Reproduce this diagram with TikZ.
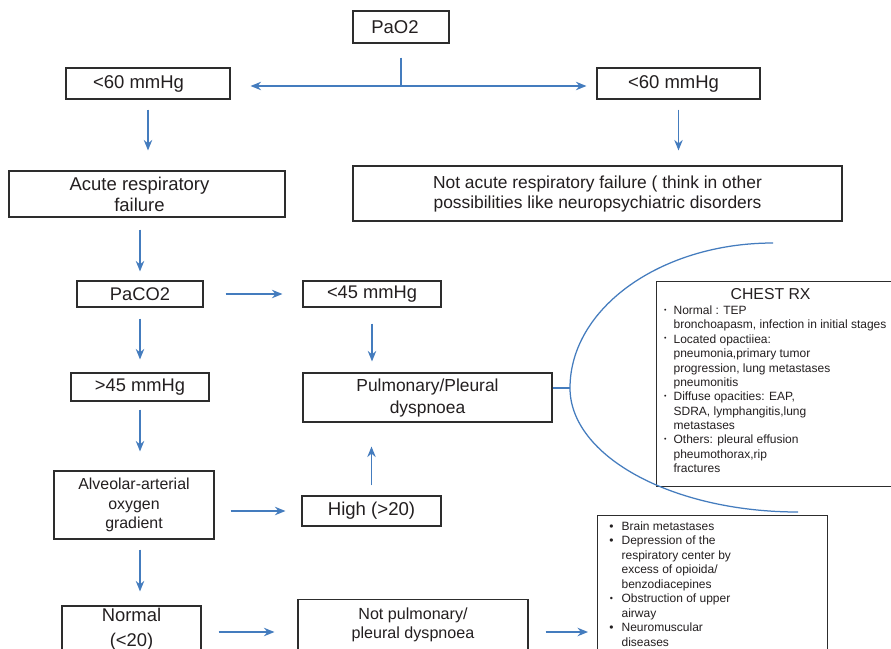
\documentclass[tikz,border=0pt]{standalone}
\usepackage{fontspec}
\setmainfont{Liberation Sans}
\usetikzlibrary{arrows.meta,calc}
\definecolor{boxc}{RGB}{45,45,45}
\definecolor{txtc}{RGB}{35,31,32}
\definecolor{arrc}{RGB}{68,124,190}
\newcommand{\myfs}[2]{\fontsize{#1}{#2}\selectfont}
\begin{document}
\begin{tikzpicture}[x=1pt,y=-1pt,
  box/.style={draw=boxc, line width=1.2pt, inner sep=0pt, align=center, text=txtc},
  arr/.style={draw=arrc, line width=1.25pt, -{Stealth[length=10.5pt,width=8.5pt,inset=3.5pt]}},
  plain/.style={draw=arrc, line width=1.25pt},
]
\fill[white] (0,0) rectangle (891,648);
\useasboundingbox (0,0) rectangle (891,648);
\clip (0,0) rectangle (891,648);

% boxes
\node[box, minimum width=96pt, minimum height=32pt, font={\myfs{18.5}{21}}] (pao2) at (401,27) {PaO2\hspace*{12pt}};
\node[box, minimum width=164pt, minimum height=31pt, font={\myfs{18.5}{21}}] (left60) at (148,83.5) {<60 mmHg\hspace*{19pt}};
\node[box, minimum width=163pt, minimum height=31pt, font={\myfs{18.5}{21}}] (right60) at (678.5,83.5) {<60 mmHg\hspace*{10pt}};
\node[box, minimum width=276pt, minimum height=46pt, font={\myfs{18.5}{21}}] (acute) at (147,194) {Acute respiratory\hspace*{15pt}\\failure\hspace*{15pt}};
\node[box, minimum width=489pt, minimum height=55pt, font={\myfs{17.4}{20}}] (notacute) at (597.5,193.5) {Not acute respiratory failure ( think in other\\possibilities like neuropsychiatric disorders};
\node[box, minimum width=126pt, minimum height=26pt, font={\myfs{18.3}{21}}] (paco2) at (140,294) {PaCO2};
\node[box, minimum width=138pt, minimum height=26pt, font={\myfs{18.3}{21}}] (lt45) at (372,294) {<45 mmHg};
\node[box, minimum width=138pt, minimum height=28pt, font={\myfs{18.3}{21}}] (gt45) at (140,387) {>45 mmHg};
\node[box, minimum width=249pt, minimum height=49pt, font={\myfs{17.4}{22}}] (pulm) at (427.5,397.5) {Pulmonary/Pleural\\dyspnoea};
\node[box, minimum width=160pt, minimum height=68pt, font={\myfs{15.9}{19.3}}] (alv) at (134,505) {Alveolar-arterial\\oxygen\\gradient};
\node[box, minimum width=139pt, minimum height=30pt, font={\myfs{18.6}{21}}] (high) at (371.5,511) {High (>20)};
\node[box, minimum width=139pt, minimum height=46pt, font={\myfs{18.4}{24.7}}] (normal) at (131.5,629) {Normal\\(<20)};
\node[box, minimum width=230pt, minimum height=51pt, font={\myfs{16.1}{19.3}}] (notpulm) at (413,625) {Not pulmonary/\\pleural dyspnoea};

\node[box, anchor=north west] (bullets) at (597,515) {\parbox[c][150pt][t]{230pt}{\raggedright\myfs{12}{14.5}\leftskip=24pt\relax
\vspace*{5.7pt}%
\noindent\llap{•\hspace{8pt}}Brain metastases\par
\noindent\llap{•\hspace{8pt}}Depression of the\\respiratory center by\\excess of opioida/\\benzodiacepines\par
\noindent\llap{\raisebox{1.5pt}{\myfs{9}{9}•}\hspace{8.5pt}}Obstruction of upper\\airway\par
\noindent\llap{•\hspace{8pt}}Neuromuscular\\diseases\par}};

\node[box, anchor=north west] (chest) at (656,281) {\parbox[c][205pt][t]{250pt}{\raggedright\myfs{15.8}{18}%
\vspace*{6.4pt}%
\noindent\makebox[228pt][c]{CHEST RX}\par
\vspace{1.2pt}%
\myfs{12}{14.36}\leftskip=17pt\relax
\noindent\llap{\raisebox{2.5pt}{\myfs{7}{7}•}\hspace{7pt}}Normal : TEP\\bronchoapasm, infection in initial stages\par
\noindent\llap{\raisebox{2.5pt}{\myfs{7}{7}•}\hspace{7pt}}Located opactiiea:\\pneumonia,primary tumor\\progression, lung metastases\\pneumonitis\par
\noindent\llap{\raisebox{2.5pt}{\myfs{7}{7}•}\hspace{7pt}}Diffuse opacities: EAP,\\SDRA, lymphangitis,lung\\metastases\par
\noindent\llap{\raisebox{2.5pt}{\myfs{7}{7}•}\hspace{7pt}}Others: pleural effusion\\pheumothorax,rip\\fractures\par}};

% connectors
\coordinate (j) at (401,86);
\draw[plain] ([yshift=-14pt]pao2.south) -- (j);
\draw[arr, shorten >=20pt] (j) -- (left60.east |- j);
\draw[arr, shorten >=10pt] (j) -- (right60.west |- j);
\draw[arr, shorten <=10pt, shorten >=20pt] (left60.south) -- (left60.south |- acute.north);
\draw[arr, shorten <=10pt, shorten >=15pt] (right60.south) -- (right60.south |- notacute.north);
\draw[arr, shorten <=12pt, shorten >=9pt] (paco2.north |- acute.south) -- (paco2.north);
\draw[arr, shorten <=22pt, shorten >=20pt] (paco2.east) -- (lt45.west);
\draw[arr, shorten <=11pt, shorten >=13pt] (paco2.south) -- (gt45.north);
\draw[arr, shorten <=16pt, shorten >=11pt] (lt45.south) -- (lt45.south |- pulm.north);
\draw[arr, shorten <=8pt, shorten >=19pt] (gt45.south) -- (gt45.south |- alv.north);
\draw[arr, shorten <=16pt, shorten >=16pt] (alv.east |- high.west) -- (high.west);
\draw[arr, shorten <=10pt, shorten >=24pt] (high.north) -- (high.north |- pulm.south);
\draw[arr, shorten <=10pt, shorten >=14pt] (gt45.south |- alv.south) -- (gt45.south |- normal.north);
\coordinate (rowb) at (0,632);
\draw[arr, shorten <=17pt, shorten >=23pt] (normal.east |- rowb) -- (notpulm.west |- rowb);
\draw[arr, shorten <=17pt, shorten >=9pt] (notpulm.east |- rowb) -- (bullets.west |- rowb);

% bracket curve
\coordinate (cleft) at (570,388);
\coordinate (ctop) at (773,243);
\coordinate (cbot) at (798,512);
\draw[plain] (pulm.east |- cleft) -- (cleft);
\draw[plain] (ctop) .. controls (661,243) and (570,308) .. (cleft) .. controls (570,456) and (672,512) .. (cbot);
\end{tikzpicture}
\end{document}
